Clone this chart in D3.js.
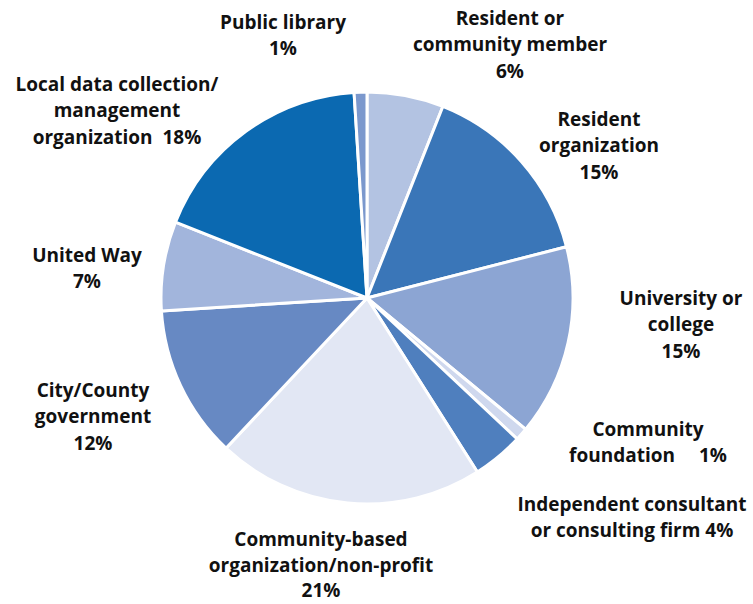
<!DOCTYPE html>
<html>
<head>
<meta charset="utf-8">
<script src="https://cdn.jsdelivr.net/npm/d3@7"></script>
<style>
  html, body { margin: 0; padding: 0; background: #fff; }
  svg text { font-family: "Open Sans", Lato, sans-serif; font-weight: 700; fill: #111; }
</style>
</head>
<body>
<svg id="chart" width="753" height="604"></svg>
<script>
// Who collects the data: share of respondents by organization type (clockwise from 12 o'clock)
const categories = [
  "Resident or community member",
  "Resident organization",
  "University or college",
  "Community foundation",
  "Independent consultant or consulting firm",
  "Community-based organization/non-profit",
  "City/County government",
  "United Way",
  "Local data collection/management organization",
  "Public library"
];
const values = [6, 15, 15, 1, 4, 21, 12, 7, 18, 1];
const colors = [
  "#b3c3e2", "#3a76b8", "#8ca5d3", "#cfd8ee", "#4f7fbe",
  "#e2e7f4", "#6789c3", "#a2b5dc", "#0b69b1", "#7b98cd"
];
// Label text, one entry per line, with the anchor point of each label block
const labelLines = [
  ["Resident or", "community member", "6%"],
  ["Resident", "organization", "15%"],
  ["University or", "college", "15%"],
  ["Community", "foundation\u2003 1%"],
  ["Independent consultant", "or consulting firm 4%"],
  ["Community-based", "organization/non-profit", "21%"],
  ["City/County", "government", "12%"],
  ["United Way", "7%"],
  ["Local data collection/", "management", "organization  18%"],
  ["Public library", "1%"]
];
const labelAnchors = [
  [510, 18], [599, 119], [681, 298], [648, 429], [632, 504],
  [321, 539], [93, 390], [87, 255], [117, 84], [283, 22]
];

const svg = d3.select("#chart");
const cx = 367, cy = 298, radius = 206;

const pie = d3.pie().sort(null).value(d => d)(values);
const arc = d3.arc().innerRadius(0).outerRadius(radius);
const color = d3.scaleOrdinal().domain(categories).range(colors);

const g = svg.append("g").attr("transform", `translate(${cx},${cy})`);
g.selectAll("path")
  .data(pie)
  .join("path")
  .attr("d", arc)
  .attr("fill", (d, i) => color(categories[i]))
  .attr("stroke", "#fff")
  .attr("stroke-width", 3)
  .attr("stroke-linejoin", "round");

const lineH = 26.3;
const labels = svg.append("g");
labelLines.forEach((lines, i) => {
  const [x, y] = labelAnchors[i];
  const t = labels.append("text")
    .attr("x", x).attr("y", y)
    .attr("text-anchor", "middle")
    .attr("dominant-baseline", "central")
    .style("font-size", "19px");
  lines.forEach((ln, k) => {
    // the bottom block sits close to the edge, so its last line is tucked up slightly
    const dy = (i === 5 && k === lines.length - 1) ? -1.5 : 0;
    t.append("tspan").attr("x", x).attr("y", y + k * lineH + dy).style("white-space", "pre").text(ln);
  });
});
</script>
</body>
</html>
